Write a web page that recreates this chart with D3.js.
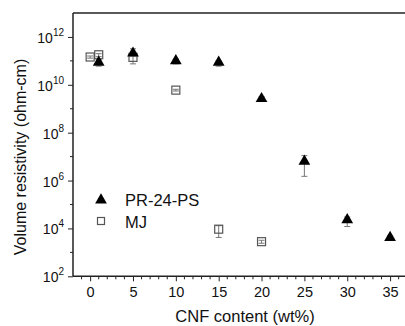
<!DOCTYPE html>
<html>
<head>
<meta charset="utf-8">
<script src="https://cdn.jsdelivr.net/npm/d3@7"></script>
<style>
body { margin: 0; background: #fff; }
svg { font-family: Arial, "Liberation Sans", sans-serif; }
</style>
</head>
<body>
<div id="chart"></div>
<script>
// PR-24-PS (filled triangles)
var prX = [1, 5, 10, 15, 20, 25, 30, 35];
var prY = [9.5e10, 2.3e11, 1.1e11, 9.5e10, 2.9e9, 7e6, 2.5e4, 4.6e3];
var prLo = [6e10, 1.6e11, 7.5e10, 6e10, 2.0e9, 1.5e6, 1.2e4, 3.5e3];
var prHi = [1.1e11, 3.2e11, 1.2e11, 1.0e11, 3.2e9, 1.1e7, 3.0e4, 5.0e3];

// MJ (open squares)
var mjX = [0, 1, 5, 10, 15, 20];
var mjY = [1.45e11, 1.8e11, 1.4e11, 6e9, 9.3e3, 2.8e3];
var mjLo = [1.3e11, 1.5e11, 7.5e10, 5.5e9, 4.2e3, 2.4e3];
var mjHi = [1.6e11, 2.0e11, 1.7e11, 6.5e9, 1.3e4, 3.2e3];

var xTicks = [0, 5, 10, 15, 20, 25, 30, 35];
var yTickExp = [2, 4, 6, 8, 10, 12];

var width = 405, height = 326;
var margin = {left: 73, top: 13, bottom: 50};

var svg = d3.select("#chart").append("svg")
    .attr("width", width)
    .attr("height", height);

var x = d3.scaleLinear().domain([-2, 37]).range([margin.left, margin.left + 39 * 8.57]);
var y = d3.scaleLog().domain([1e2, 1e13]).range([276.3, margin.top]);

var plot = svg.append("g");

// frame: top line (right side is cut off)
plot.append("line").attr("x1", x(-2)).attr("x2", width + 5).attr("y1", y(1e13)).attr("y2", y(1e13))
    .attr("stroke", "#222").attr("stroke-width", 1.5);

// x axis
var xAxis = d3.axisBottom(x).tickValues(xTicks).tickSize(5).tickPadding(5).tickFormat(d3.format("d"));
var gx = svg.append("g").attr("transform", "translate(0," + y(1e2) + ")").call(xAxis);
gx.select(".domain").remove();
gx.append("line").attr("x1", x(-2)).attr("x2", width + 5).attr("stroke", "#222").attr("stroke-width", 1.5);
gx.selectAll(".tick text").attr("font-size", 14.5).attr("fill", "#111");
gx.selectAll(".tick line").attr("stroke", "#222");
var minorX = d3.range(-1, 37).filter(function(d) { return d % 5 !== 0; });
gx.selectAll(".minor").data(minorX).enter().append("line")
    .attr("x1", function(d) { return x(d); }).attr("x2", function(d) { return x(d); })
    .attr("y1", 0).attr("y2", 3).attr("stroke", "#222");

// y axis
var yAxis = d3.axisLeft(y).tickValues(yTickExp.map(function(e) { return Math.pow(10, e); }))
    .tickSize(5).tickPadding(3).tickFormat("");
var gy = svg.append("g").attr("transform", "translate(" + x(-2) + ",0)").call(yAxis);
gy.select(".domain").remove();
gy.append("line").attr("y1", y(1e2)).attr("y2", y(1e13)).attr("stroke", "#222").attr("stroke-width", 1.5);
gy.selectAll(".tick line").attr("stroke", "#222");
var minorY = [3, 5, 7, 9, 11].map(function(e) { return Math.pow(10, e); });
gy.selectAll(".minor").data(minorY).enter().append("line")
    .attr("x1", -3).attr("x2", 0)
    .attr("y1", function(d) { return y(d); }).attr("y2", function(d) { return y(d); })
    .attr("stroke", "#222");
gy.selectAll(".tick").each(function(d) {
    var t = d3.select(this).append("text").attr("fill", "#111").attr("text-anchor", "end")
        .attr("x", -9).attr("y", 5.5);
    t.append("tspan").attr("font-size", 14).text("10");
    t.append("tspan").attr("font-size", 10).attr("dy", -7).text(Math.round(Math.log10(d)));
});

// axis titles
svg.append("text").attr("x", 245).attr("y", 322).attr("text-anchor", "middle")
    .attr("font-size", 16.5).attr("fill", "#111").text("CNF content (wt%)");
svg.append("text").attr("transform", "translate(26," + 157 + ") rotate(-90)").attr("text-anchor", "middle")
    .attr("font-size", 16).attr("fill", "#111").text("Volume resistivity (ohm-cm)");

// error bars
function errorBars(xs, lo, hi, cls) {
    var g = svg.append("g").attr("class", cls);
    var idx = d3.range(xs.length);
    g.selectAll("line.v").data(idx).enter().append("line")
        .attr("x1", function(i) { return x(xs[i]); }).attr("x2", function(i) { return x(xs[i]); })
        .attr("y1", function(i) { return y(lo[i]); }).attr("y2", function(i) { return y(hi[i]); })
        .attr("stroke", "#777").attr("stroke-width", 1);
    [lo, hi].forEach(function(arr) {
        g.selectAll(null).data(idx).enter().append("line")
            .attr("x1", function(i) { return x(xs[i]) - 3; }).attr("x2", function(i) { return x(xs[i]) + 3; })
            .attr("y1", function(i) { return y(arr[i]); }).attr("y2", function(i) { return y(arr[i]); })
            .attr("stroke", "#777").attr("stroke-width", 1);
    });
}
errorBars(mjX, mjLo, mjHi, "errMJ");
errorBars(prX, prLo, prHi, "errPR");

var tri = d3.symbol().type(d3.symbolTriangle).size(60);

// MJ squares
svg.append("g").selectAll("rect").data(d3.range(mjX.length)).enter().append("rect")
    .attr("x", function(i) { return x(mjX[i]) - 4; })
    .attr("y", function(i) { return y(mjY[i]) - 4; })
    .attr("width", 8).attr("height", 8)
    .attr("fill", "none").attr("stroke", "#555").attr("stroke-width", 1.2);

// PR triangles
svg.append("g").selectAll("path").data(d3.range(prX.length)).enter().append("path")
    .attr("d", tri)
    .attr("transform", function(i) { return "translate(" + x(prX[i]) + "," + (y(prY[i]) + 1) + ")"; })
    .attr("fill", "#000");

// legend
var leg = svg.append("g");
leg.append("path").attr("d", tri).attr("transform", "translate(101,200)").attr("fill", "#000");
leg.append("text").attr("x", 125).attr("y", 205.5).attr("font-size", 16.5).attr("fill", "#111").text("PR-24-PS");
leg.append("rect").attr("x", 97.5).attr("y", 217.5).attr("width", 7).attr("height", 7)
    .attr("fill", "none").attr("stroke", "#555").attr("stroke-width", 1.2);
leg.append("text").attr("x", 125).attr("y", 227.5).attr("font-size", 16.5).attr("fill", "#111").text("MJ");
</script>
</body>
</html>
